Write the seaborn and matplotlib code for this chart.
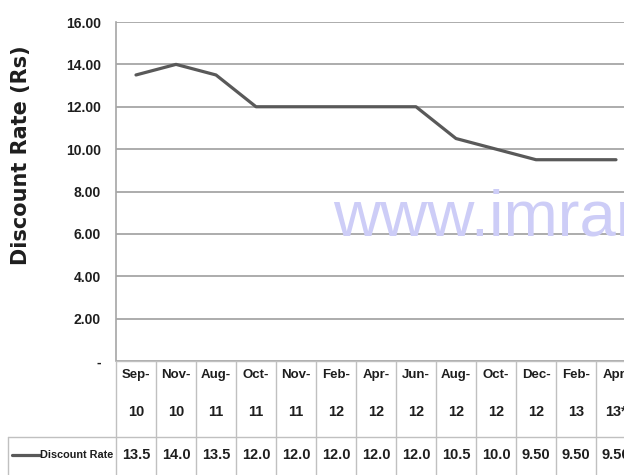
import matplotlib
matplotlib.use("Agg")
import matplotlib.pyplot as plt
import seaborn as sns
import pandas as pd

# data
months = ["Sep-", "Nov-", "Aug-", "Oct-", "Nov-", "Feb-", "Apr-",
          "Jun-", "Aug-", "Oct-", "Dec-", "Feb-", "Apr-"]
years = ["10", "10", "11", "11", "11", "12", "12",
         "12", "12", "12", "12", "13", "13*"]
rates = [13.5, 14.0, 13.5, 12.0, 12.0, 12.0, 12.0,
         12.0, 10.5, 10.0, 9.5, 9.5, 9.5]
rate_labels = ["13.5", "14.0", "13.5", "12.0", "12.0", "12.0", "12.0",
               "12.0", "10.5", "10.0", "9.50", "9.50", "9.50"]
y_ticks = [0, 2, 4, 6, 8, 10, 12, 14, 16]
y_tick_labels = ["-", "2.00", "4.00", "6.00", "8.00", "10.00",
                 "12.00", "14.00", "16.00"]

W, H = 624, 475
LINE_COLOR = "#595959"
GRID_COLOR = "#a6a6a6"
TABLE_COLOR = "#c0c0c0"
TEXT_COLOR = "#1e1e1e"
NARROW = dict(family="Liberation Sans", fontweight="bold")

sns.set_theme(style="white")
plt.rcParams["font.family"] = ["Liberation Sans", "DejaVu Sans"]

df = pd.DataFrame({"pos": range(len(rates)), "rate": rates})
n = len(rates)

fig = plt.figure(figsize=(W / 100, H / 100), dpi=100)
fig.patch.set_facecolor("white")

# plot area: left 116px, top 22px, bottom 361px, 40px per category
ax = fig.add_axes([116 / W, 114 / H, 40 * n / W, 339 / H])
sns.lineplot(data=df, x="pos", y="rate", color=LINE_COLOR, linewidth=2.3, ax=ax)
ax.set_xlim(-0.5, n - 0.5)
ax.set_ylim(0, 16)
ax.set_yticks(y_ticks)
ax.set_yticklabels(y_tick_labels, fontsize=10, color=TEXT_COLOR, **NARROW)
ax.set_xticks([])
ax.tick_params(axis="y", length=0, pad=11)
ax.yaxis.grid(True, color=GRID_COLOR, linewidth=1.3)
ax.set_axisbelow(True)
for s in ["top", "right", "bottom"]:
    ax.spines[s].set_visible(False)
ax.spines["left"].set_color(GRID_COLOR)
ax.spines["left"].set_linewidth(1.2)
ax.set_xlabel("")
ax.set_ylabel("")

fig.text(21 / W, 1 - 155 / H, "Discount Rate (Rs)", rotation=90,
         family="DejaVu Sans", fontweight="bold", fontsize=15,
         ha="center", va="center", color=TEXT_COLOR)

# watermark
fig.text(333 / W, 1 - 235 / H, "www.imran", family="Liberation Sans",
         fontsize=47, color="#cdcdf7", ha="left", va="baseline")

# data table under the plot
tax = fig.add_axes([116 / W, 0, 40 * n / W, 114 / H])
tax.set_xlim(-0.5, n - 0.5)
tax.set_ylim(0, 1)
tax.axis("off")
row_y = (H - 437) / 114
left_x = -0.5 + (8 - 116) / 40

for i in range(n + 1):
    tax.plot([i - 0.5, i - 0.5], [0, 1], color=TABLE_COLOR, lw=1, clip_on=False)
tax.plot([-0.5, n - 0.5], [1, 1], color=TABLE_COLOR, lw=1, clip_on=False)
tax.plot([left_x, n - 0.5], [row_y, row_y], color=TABLE_COLOR, lw=1, clip_on=False)
tax.plot([left_x, left_x], [0, row_y], color=TABLE_COLOR, lw=1, clip_on=False)

for i in range(n):
    tax.text(i, (H - 375) / 114, months[i], ha="center", va="center",
             fontsize=9.5, color=TEXT_COLOR, **NARROW)
    tax.text(i, (H - 412) / 114, years[i], ha="center", va="center",
             fontsize=10.5, color=TEXT_COLOR, **NARROW)
    tax.text(i, (H - 455) / 114, rate_labels[i], ha="center", va="center",
             fontsize=10.5, color=TEXT_COLOR, **NARROW)

leg_y = (H - 455) / 114
tax.plot([-0.5 + (12 - 116) / 40, -0.5 + (40 - 116) / 40], [leg_y, leg_y],
         color=LINE_COLOR, lw=2.3, clip_on=False)
tax.text(-0.5 + (40 - 116) / 40, leg_y, "Discount Rate", ha="left", va="center",
         fontsize=7.8, color=TEXT_COLOR, **NARROW)

fig.savefig("out.png", dpi=100)
